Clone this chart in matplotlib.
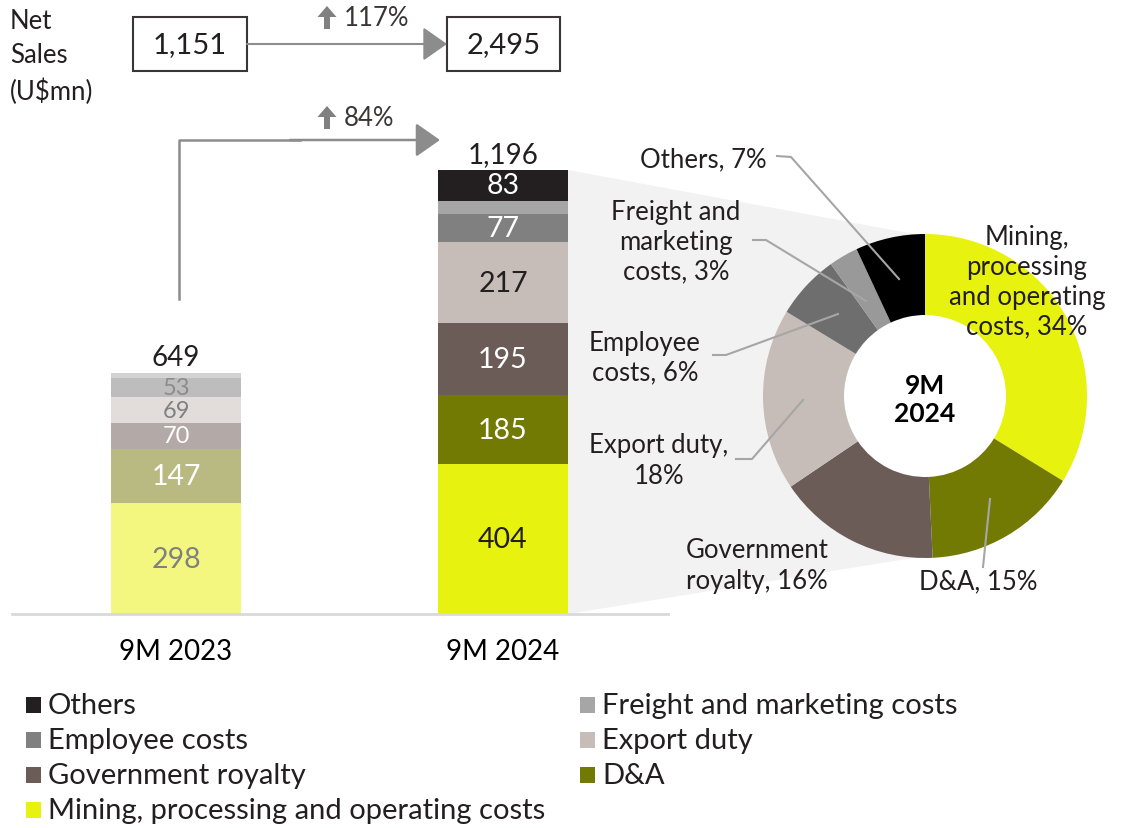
import matplotlib
matplotlib.use('Agg')
import matplotlib.pyplot as plt
from matplotlib.patches import Polygon, Rectangle, Circle, FancyArrow, FancyArrowPatch

plt.rcParams['font.family'] = ['Lato', 'DejaVu Sans']

# Data
periods = ['9M 2023', '9M 2024']
components = ['Mining, processing and operating costs', 'D&A', 'Government royalty',
              'Export duty', 'Employee costs', 'Freight and marketing costs', 'Others']
costs_2023 = [298, 147, 70, 69, 53, 12, 0]
costs_2024 = [404, 185, 195, 217, 77, 35, 83]
totals = [649, 1196]
net_sales = [1151, 2495]
sales_growth = '117%'
cost_growth = '84%'
pie_labels = ['Mining,\nprocessing\nand operating\ncosts, 34%', 'D&A, 15%',
              'Government\nroyalty, 16%', 'Export duty,\n18%', 'Employee\ncosts, 6%',
              'Freight and\nmarketing\ncosts, 3%', 'Others, 7%']

colors_2024 = ['#e8f20f', '#737a03', '#6b5c58', '#c6bcb8', '#808080', '#a6a6a6', '#231f20']
colors_2023 = ['#f3f77f', '#b8ba82', '#b3aaa7', '#e2dddb', '#bdbdbd', '#d3d3d3', '#d3d3d3']
pie_colors = ['#e8f20f', '#737a03', '#6b5c58', '#c6bcb8', '#6e6e6e', '#999999', '#000000']
lbl_2023 = ['#808080', 'white', 'white', '#808080', '#8c8c8c', 'white', 'white']
lbl_2024 = ['#231f20', 'white', 'white', '#231f20', 'white', 'white', 'white']

W, H = 1125, 829
fig = plt.figure(figsize=(W / 100, H / 100), dpi=100)


def box(l, t, r, b):
    return [l / W, 1 - b / H, (r - l) / W, (b - t) / H]


# background overlay in pixel coords (funnel)
bg = fig.add_axes([0, 0, 1, 1], zorder=0)
bg.set_xlim(0, W)
bg.set_ylim(H, 0)
bg.axis('off')
bg.add_patch(Polygon([(568, 171), (925, 237), (925, 557), (568, 615)],
                     closed=True, fc='#f2f2f2', ec='none'))

# stacked bars
ax = fig.add_axes(box(12, 100, 668, 615), zorder=1)
ax.set_facecolor('none')
px_per_unit = 444 / 1196
ax.set_ylim(0, 515 / px_per_unit)
ax.set_xlim(-164 / 327, 1 + 165 / 327)
for s in ['top', 'right', 'left']:
    ax.spines[s].set_visible(False)
ax.spines['bottom'].set_color('#d9d9d9')
ax.spines['bottom'].set_linewidth(2)
ax.set_yticks([])
ax.set_xticks([0, 1])
ax.set_xticklabels(periods, fontsize=20)
ax.tick_params(axis='x', length=0, pad=17)

for i, (vals, cols, lcols) in enumerate([(costs_2023, colors_2023, lbl_2023),
                                         (costs_2024, colors_2024, lbl_2024)]):
    bottom = 0
    for v, c, lc in zip(vals, cols, lcols):
        ax.bar(i, v, 0.4, bottom=bottom, color=c, edgecolor='none')
        if v >= 50:
            # thin segments get a slightly smaller label
            small = v * px_per_unit < 28
            ax.text(i, bottom + v / 2, f'{v}', ha='center', va='center',
                    fontsize=17 if small else 20.5, color=lc)
        bottom += v
    ax.text(i, totals[i] + 8, f'{totals[i]:,}', ha='center', va='bottom',
            fontsize=20, color='#231f20')

# donut
ax2 = fig.add_axes(box(725, 197, 1125, 597), zorder=2)
ax2.set_facecolor('none')
ax2.add_patch(Circle((0, 0), 0.5, fc='white', ec='none', zorder=0))
ax2.pie(costs_2024, colors=pie_colors, startangle=90, counterclock=False,
        radius=1, wedgeprops=dict(width=0.5, edgecolor='none'))
ax2.set_xlim(-200 / 162, 200 / 162)
ax2.set_ylim(-200 / 162, 200 / 162)
ax2.text(0, -0.02, '9M\n2024', ha='center', va='center', fontsize=19,
         fontweight='bold', linespacing=1.2)

# foreground overlay: header, arrows, labels, legend
fg = fig.add_axes([0, 0, 1, 1], zorder=3)
fg.set_facecolor('none')
fg.set_xlim(0, W)
fg.set_ylim(H, 0)
fg.axis('off')

arrow_c = '#8c8c8c'
fg.text(10, 57, 'Net\nSales\n(U$mn)', ha='left', va='center', fontsize=18.5,
        linespacing=1.45, color='#231f20')
for (l, r), v in zip([(133, 247), (447, 560)], net_sales):
    fg.add_patch(Rectangle((l, 18), r - l, 54, fc='white', ec='#3a3636', lw=1.5))
    fg.text((l + r) / 2, 45, f'{v:,}', ha='center', va='center', fontsize=21,
            color='#231f20')
head = '-|>,head_length=10,head_width=7'
fg.add_patch(FancyArrowPatch((247, 45), (447, 45), arrowstyle=head,
                             color=arrow_c, lw=1.5, shrinkA=0, shrinkB=0,
                             mutation_scale=1.5))
fg.plot([179, 179, 300], [300, 141, 141], color=arrow_c, lw=1.8)
fg.add_patch(FancyArrowPatch((290, 141), (440, 141), arrowstyle=head,
                             color=arrow_c, lw=1.8, shrinkA=0, shrinkB=0,
                             mutation_scale=1.5))
for y, txt in [(18, sales_growth), (118, cost_growth)]:
    fg.add_patch(FancyArrow(327, y + 12, 0, -23, width=6, head_width=19,
                            head_length=11, length_includes_head=True,
                            color='#808080', ec='none'))
    fg.text(344, y, txt, ha='left', va='center', fontsize=18.5, color='#3a3636')

# donut labels with leader lines
lead_c = '#a6a6a6'
lab_pos = [(1027, 282), (978, 582), (757, 566), (659, 461), (645, 358),
           (676, 242), (703, 160)]
for (x, y), t in zip(lab_pos, pie_labels):
    fg.text(x, y, t, ha='center', va='center', fontsize=18.5, linespacing=1.25,
            color='#231f20')
leaders = [
    ([983, 990], [568, 500]),
    ([736, 752, 803], [460, 460, 401]),
    ([713, 726, 838], [356, 356, 315]),
    ([753, 766, 866], [241, 241, 302]),
    ([777, 791, 899], [157, 158, 280]),
]
for xs, ys in leaders:
    fg.plot(xs, ys, color=lead_c, lw=1.5)

# legend
legend_rows = [(0, 'Others'), (0, 'Employee costs'), (0, 'Government royalty'),
               (0, 'Mining, processing and operating costs'),
               (1, 'Freight and marketing costs'), (1, 'Export duty'), (1, 'D&A')]
col_count = [0, 0]
for col, name in legend_rows:
    r = col_count[col]
    col_count[col] += 1
    y = 706 + 35 * r
    x0 = 26 if col == 0 else 580
    c = colors_2024[components.index(name)]
    fg.add_patch(Rectangle((x0, y - 8), 15, 16, fc=c, ec='none'))
    fg.text(x0 + 22, y, name, ha='left', va='center', fontsize=21,
            color='#231f20')

fig.savefig('out.png', dpi=100)
